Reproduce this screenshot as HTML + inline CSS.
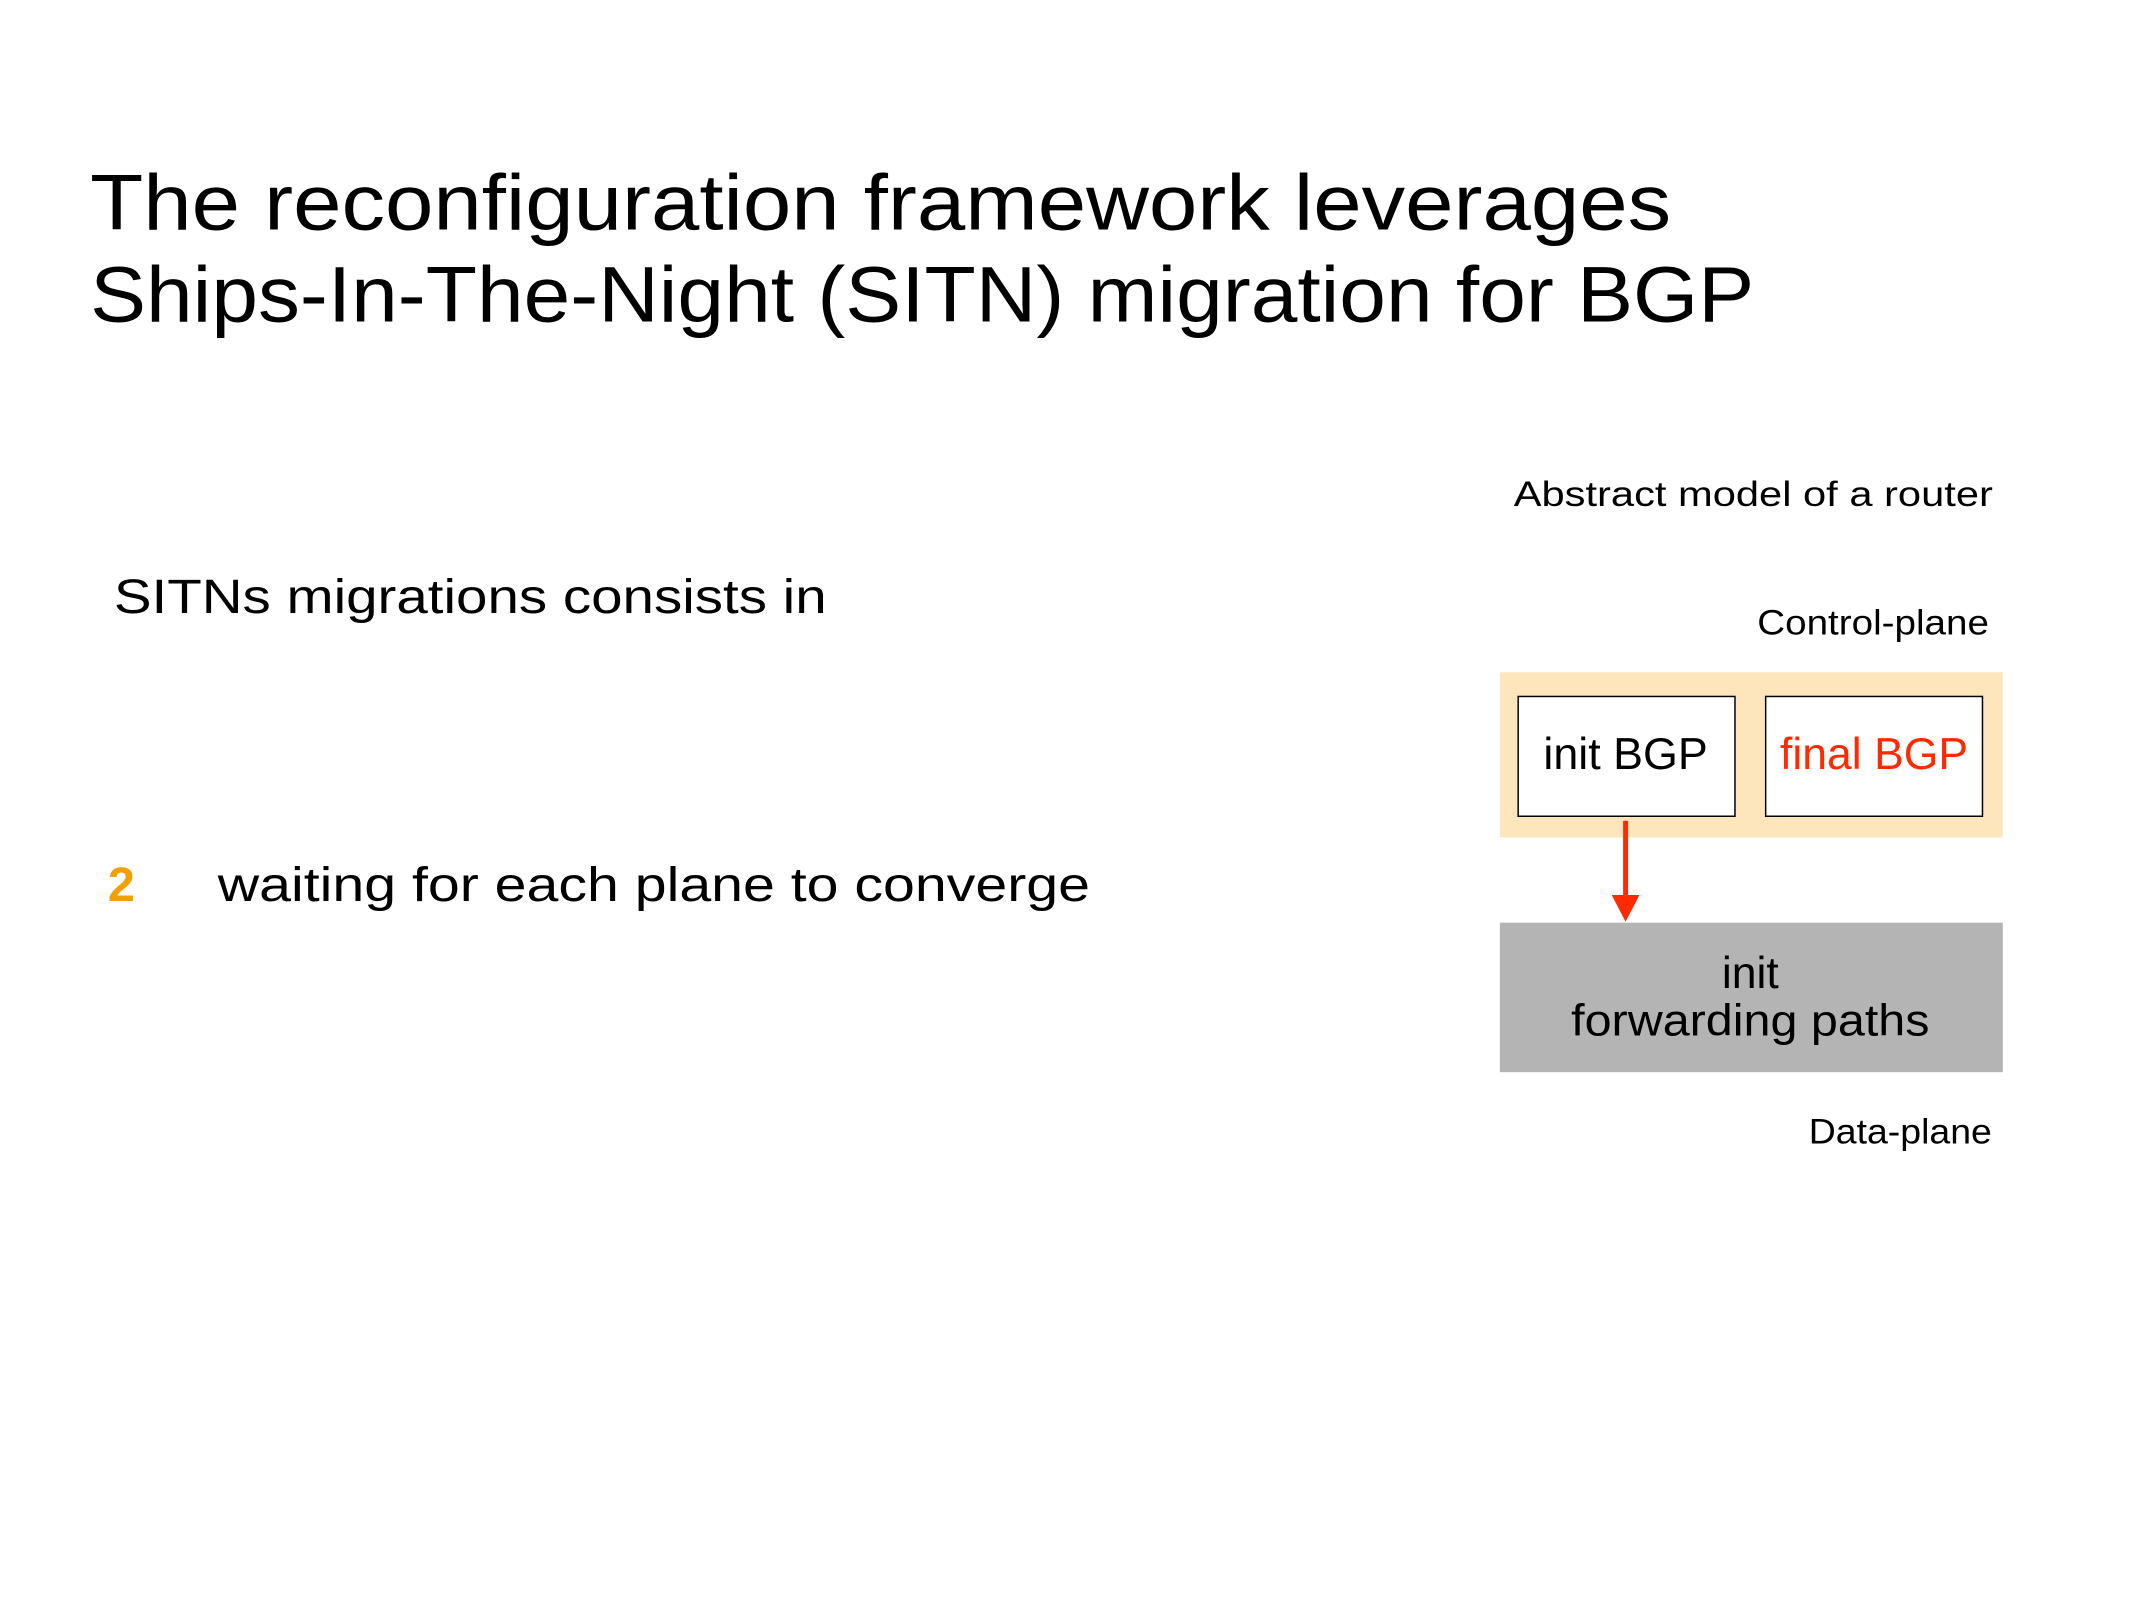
<!DOCTYPE html>
<html><head><meta charset="utf-8"><style>
html,body{margin:0;padding:0;background:#fff;}
svg{display:block;}
text{font-family:"Liberation Sans","DejaVu Sans",sans-serif;fill:#000;}
</style></head><body>
<svg width="2134" height="1600" viewBox="0 0 2134 1600" xmlns="http://www.w3.org/2000/svg">
<rect width="2134" height="1600" fill="#fff"/>
<g transform="scale(0.99)">
<text x="91" y="232" font-size="80" textLength="1597" lengthAdjust="spacingAndGlyphs">The reconfiguration framework leverages</text>
<text x="91" y="325" font-size="80" textLength="1681" lengthAdjust="spacingAndGlyphs">Ships-In-The-Night (SITN) migration for BGP</text>
<text x="115" y="619" font-size="49" textLength="720" lengthAdjust="spacingAndGlyphs">SITNs migrations consists in</text>
<text x="109" y="910" font-size="49" font-weight="bold" style="fill:#f0a000">2</text>
<text x="220" y="910" font-size="49" textLength="881" lengthAdjust="spacingAndGlyphs">waiting for each plane to converge</text>
<text x="1529" y="511" font-size="36" textLength="484" lengthAdjust="spacingAndGlyphs">Abstract model of a router</text>
<text x="1775" y="641" font-size="36" textLength="234" lengthAdjust="spacingAndGlyphs">Control-plane</text>
<rect x="1515" y="679" width="508" height="167" fill="#fde6bb"/>
<rect x="1533.5" y="703.5" width="219" height="121" fill="#fff" stroke="#000" stroke-width="1.5"/>
<rect x="1783.5" y="703.5" width="219" height="121" fill="#fff" stroke="#000" stroke-width="1.5"/>
<text x="1642" y="777" font-size="45" text-anchor="middle" textLength="166" lengthAdjust="spacingAndGlyphs">init BGP</text>
<text x="1893" y="777" font-size="45" text-anchor="middle" textLength="190" lengthAdjust="spacingAndGlyphs" style="fill:#ff2a00">final BGP</text>
<line x1="1642" y1="829" x2="1642" y2="906" stroke="#ff2a00" stroke-width="5"/>
<polygon points="1628,904 1656,904 1642,931" fill="#ff2a00"/>
<rect x="1515" y="932" width="508" height="151" fill="#b4b4b4"/>
<text x="1768" y="998" font-size="45" text-anchor="middle">init</text>
<text x="1768" y="1046" font-size="45" text-anchor="middle" textLength="362" lengthAdjust="spacingAndGlyphs">forwarding paths</text>
<text x="1827" y="1155" font-size="36" textLength="185" lengthAdjust="spacingAndGlyphs">Data-plane</text>
</g>
</svg>
</body></html>
